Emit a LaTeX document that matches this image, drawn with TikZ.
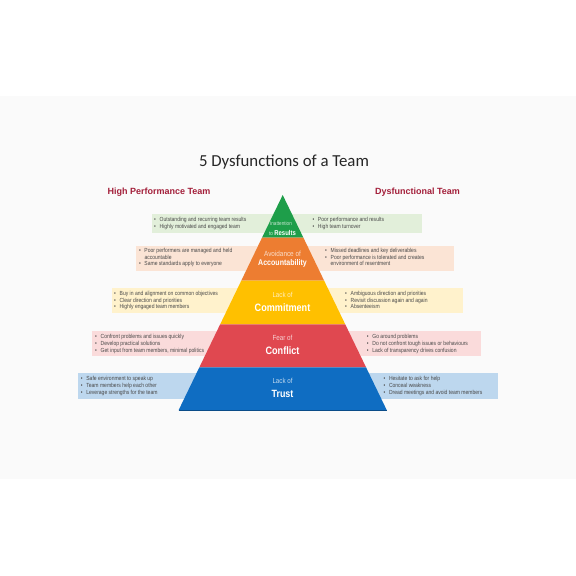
\documentclass[tikz,border=0pt]{standalone}
\usepackage{fontspec}
\setmainfont{Liberation Sans}
\newfontfamily\nar[FakeStretch=0.85]{Liberation Sans}
\newfontfamily\titlefont{Carlito}
\definecolor{pgreen}{HTML}{1E9E4A}
\definecolor{porange}{HTML}{ED7D31}
\definecolor{pyellow}{HTML}{FFC000}
\definecolor{pred}{HTML}{E04850}
\definecolor{pblue}{HTML}{0F6DC2}
\definecolor{bgreen}{HTML}{E2EFDA}
\definecolor{borange}{HTML}{FBE4D5}
\definecolor{byellow}{HTML}{FFF2CC}
\definecolor{bred}{HTML}{FADBDB}
\definecolor{bblue}{HTML}{BDD7EE}
\definecolor{slide}{HTML}{FAFAFA}
\definecolor{titlegray}{HTML}{262626}
\definecolor{maroon}{HTML}{A31F3A}
\definecolor{txt}{HTML}{4A4A4A}
\newcommand\bx[1]{\makebox[5.5pt][l]{\textbullet}#1}
\newcommand\cx[1]{\hspace*{5.5pt}#1}
\tikzset{
  bt/.style={anchor=base west, inner sep=0pt, yshift=-1.6pt, text=txt, font=\nar\fontsize{5.9}{6.5}\selectfont},
  small/.style={anchor=base, inner sep=0pt, text=white, text opacity=0.75, font=\nar\fontsize{#1}{#1}\selectfont},
  big/.style={anchor=base, inner sep=0pt, text=white, font=\nar\bfseries\fontsize{#1}{#1}\selectfont},
  head/.style={anchor=base, inner sep=0pt, text=maroon, font=\bfseries\fontsize{9}{9}\selectfont},
}
\begin{document}
\begin{tikzpicture}[x=1pt,y=-1pt]
\useasboundingbox (0,0) rectangle (576,576);
\fill[white] (0,0) rectangle (576,576);
\fill[slide] (0,95.7) rectangle (576,479);
% title and headers
\node[anchor=base, inner sep=0pt, text=titlegray, font=\titlefont\fontsize{16.8}{17}\selectfont] (title) at (284,166) {5 Dysfunctions of a Team};
\node[head] (hpt) at (159,194.2) {High Performance Team};
\node[head] (dft) at (417.5,194.2) {Dysfunctional Team};
% background boxes
\fill[bgreen] (151.7,214.3) rectangle (421.5,232.8);
\fill[borange] (136.3,245.5) rectangle (454,270.8);
\fill[byellow] (111.7,287.7) rectangle (463.3,312.8);
\fill[bred] (91.7,331.4) rectangle (480.7,355.8);
\fill[bblue] (77.7,373.3) rectangle (498.3,398.6);
% pyramid
\fill[pgreen] (282.7,195) -- (303.4,237.7) -- (262.0,237.7) -- cycle;
\fill[porange] (262.0,237.7) -- (303.4,237.7) -- (324.15,280.7) -- (241.25,280.7) -- cycle;
\fill[pyellow] (241.25,280.7) -- (324.15,280.7) -- (345.24,324.3) -- (220.16,324.3) -- cycle;
\fill[pred] (220.16,324.3) -- (345.24,324.3) -- (366.04,367.3) -- (199.36,367.3) -- cycle;
\fill[pblue] (199.36,367.3) -- (366.04,367.3) -- (386.7,410) -- (178.7,410) -- cycle;
\draw[pblue!70!black, line width=0.6pt] (178.7,410) -- (386.7,410);
% pyramid labels
\node[small=5.5] (l1a) at (281,225) {Inattention};
\node[anchor=base, inner sep=0pt, text=white, font=\nar\fontsize{7}{7}\selectfont] (l1b) at (282.5,235.2) {{\fontsize{5.5}{6}\selectfont\color{white!80!pgreen}to }\textbf{Results}};
\node[small=7.5] (l2a) at (282.5,256) {Avoidance of};
\node[big=8.3] (l2b) at (282.5,265.7) {Accountability};
\node[small=7.3] (l3a) at (282.5,297.9) {Lack of};
\node[big=10.7] (l3b) at (282.5,311.3) {Commitment};
\node[small=7.4] (l4a) at (282.5,340.6) {Fear of};
\node[big=10.7] (l4b) at (282.5,354.6) {Conflict};
\node[small=7.3] (l5a) at (282.5,383.6) {Lack of};
\node[big=10.5] (l5b) at (282.5,397.5) {Trust};
% left bullets
\node[bt] (g1) at (154,219.7) {\bx{Outstanding and recurring team results}};
\node[bt] (g2) at (154,227.3) {\bx{Highly motivated and engaged team}};
\node[bt] (o1) at (138.8,251) {\bx{Poor performers are managed and held}};
\node[bt] (o2) at (138.8,257.5) {\cx{accountable}};
\node[bt] (o3) at (138.8,264) {\bx{Same standards apply to everyone}};
\node[bt] (y1) at (114,294) {\bx{Buy in and alignment on common objectives}};
\node[bt] (y2) at (114,300.5) {\bx{Clear direction and priorities}};
\node[bt] (y3) at (114,307) {\bx{Highly engaged team members}};
\node[bt] (r1) at (95,336.7) {\bx{Confront problems and issues quickly}};
\node[bt] (r2) at (95,344) {\bx{Develop practical solutions}};
\node[bt] (r3) at (95,351) {\bx{Get input from team members, minimal politics}};
\node[bt] (b1) at (80.7,378.5) {\bx{Safe environment to speak up}};
\node[bt] (b2) at (80.7,385.5) {\bx{Team members help each other}};
\node[bt] (b3) at (80.7,392.5) {\bx{Leverage strengths for the team}};
% right bullets
\node[bt] (gr1) at (312.3,219.7) {\bx{Poor performance and results}};
\node[bt] (gr2) at (312.3,227.3) {\bx{High team turnover}};
\node[bt] (or1) at (325,251) {\bx{Missed deadlines and key deliverables}};
\node[bt] (or2) at (325,257.5) {\bx{Poor performance is tolerated and creates}};
\node[bt] (or3) at (325,264) {\cx{environment of resentment}};
\node[bt] (yr1) at (345,294) {\bx{Ambiguous direction and priorities}};
\node[bt] (yr2) at (345,300.5) {\bx{Revisit discussion again and again}};
\node[bt] (yr3) at (345,307) {\bx{Absenteeism}};
\node[bt] (rr1) at (366.7,336.7) {\bx{Go around problems}};
\node[bt] (rr2) at (366.7,344) {\bx{Do not confront tough issues or behaviours}};
\node[bt] (rr3) at (366.7,351) {\bx{Lack of transparency drives confusion}};
\node[bt] (br1) at (383.3,378.5) {\bx{Hesitate to ask for help}};
\node[bt] (br2) at (383.3,385.5) {\bx{Conceal weakness}};
\node[bt] (br3) at (383.3,392.5) {\bx{Dread meetings and avoid team members}};
\end{tikzpicture}
\end{document}
